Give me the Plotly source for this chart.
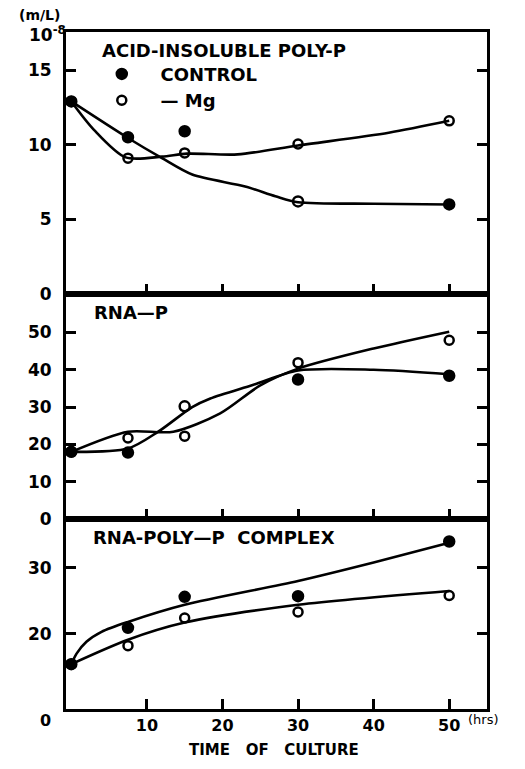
import plotly.graph_objects as go

# ---------------- data ----------------
time_hrs = [0, 7.5, 15, 30, 50]

# Panel 1: acid-insoluble poly-P (x10^-8 m/L)
poly_control = [12.9, 10.5, 10.9, 6.2, 6.0]
poly_mg = [12.9, 9.1, 9.45, 10.05, 11.6]
poly_control_curve_x = [0, 7.5, 12, 16, 23, 27, 30, 40, 50]
poly_control_curve_y = [12.9, 10.45, 9.1, 8.0, 7.2, 6.55, 6.15, 6.05, 6.0]
poly_mg_curve_x = [0, 3, 7.2, 12, 15.3, 22, 30, 42, 50]
poly_mg_curve_y = [12.9, 11.0, 9.15, 9.2, 9.4, 9.35, 9.95, 10.8, 11.6]

# Panel 2: RNA-P
rna_control = [18.0, 17.8, 30.2, 37.4, 38.4]
rna_mg = [18.0, 21.7, 22.2, 41.9, 47.9]
rna_control_curve_x = [0, 7.5, 11.5, 16, 18.4, 24, 30, 40, 50]
rna_control_curve_y = [18.0, 18.9, 23.4, 30.0, 32.3, 35.9, 39.8, 40.0, 38.8]
rna_mg_curve_x = [0, 7.5, 13.5, 19.7, 25, 30, 40, 50]
rna_mg_curve_y = [18.0, 23.4, 23.4, 28.3, 35.8, 40.3, 45.7, 50.2]

# Panel 3: RNA-poly-P complex
cx_control = [15.4, 20.9, 25.6, 25.7, 34.0]
cx_mg = [15.4, 18.2, 22.4, 23.3, 25.8]
cx_control_curve_x = [0, 0.7, 2, 4, 7.5, 15, 30, 40, 50]
cx_control_curve_y = [15.4, 17.0, 18.8, 20.3, 21.8, 24.4, 28.0, 30.8, 33.8]
cx_mg_curve_x = [0, 7.5, 15, 30, 50]
cx_mg_curve_y = [15.4, 19.1, 21.7, 24.4, 26.5]

x_tick_vals = [10, 20, 30, 40, 50]
x_tick_text = ["10", "20", "30", "40", "50"]
poly_ticks = [0, 5, 10, 15]
rna_ticks = [0, 10, 20, 30, 40, 50]
cx_ticks = [20, 30]

# marker symbols as they appear in the scan
poly_control_sym = ["circle", "circle", "circle", "circle-open", "circle"]
rna_control_sym = ["circle", "circle", "circle-open", "circle", "circle"]
cx_control_sym = ["circle"] * 5

# ---------------- figure ----------------
fig = go.Figure()
LW = 2.6
panels = [
    ("x", "y", poly_control, poly_mg, poly_control_sym,
     poly_control_curve_x, poly_control_curve_y, poly_mg_curve_x, poly_mg_curve_y, True),
    ("x2", "y2", rna_control, rna_mg, rna_control_sym,
     rna_control_curve_x, rna_control_curve_y, rna_mg_curve_x, rna_mg_curve_y, False),
    ("x3", "y3", cx_control, cx_mg, cx_control_sym,
     cx_control_curve_x, cx_control_curve_y, cx_mg_curve_x, cx_mg_curve_y, False),
]
for xa, ya, ctl, mg, csym, ccx, ccy, mcx, mcy, leg in panels:
    fig.add_trace(go.Scatter(x=ccx, y=ccy, xaxis=xa, yaxis=ya, mode="lines",
                             line=dict(color="black", width=LW, shape="spline", smoothing=0.8),
                             showlegend=False, hoverinfo="skip"))
    fig.add_trace(go.Scatter(x=mcx, y=mcy, xaxis=xa, yaxis=ya, mode="lines",
                             line=dict(color="black", width=LW, shape="spline", smoothing=0.8),
                             showlegend=False, hoverinfo="skip"))
    fig.add_trace(go.Scatter(x=time_hrs, y=ctl, xaxis=xa, yaxis=ya, mode="markers",
                             name="\u00a0\u00a0\u00a0CONTROL", showlegend=leg,
                             marker=dict(symbol=csym, size=10, color="black",
                                         line=dict(color="black", width=2.5))))
    fig.add_trace(go.Scatter(x=time_hrs, y=mg, xaxis=xa, yaxis=ya, mode="markers",
                             name="\u00a0\u00a0\u00a0\u2014 Mg", showlegend=leg,
                             marker=dict(symbol="circle-open", size=9, color="black",
                                         line=dict(color="black", width=2.5))))

xrange = [-0.7, 55.0]
common_x = dict(range=xrange, showline=True, linewidth=3, linecolor="black", mirror=True,
                ticks="inside", ticklen=10, tickwidth=2.5, tickcolor="black",
                tickvals=x_tick_vals, ticktext=x_tick_text, showgrid=False, zeroline=False)
common_y = dict(showline=True, linewidth=3, linecolor="black", mirror="ticks",
                ticks="inside", ticklen=10, tickwidth=2.5, tickcolor="black",
                showgrid=False, zeroline=False, ticklabelstandoff=8,
                tickfont=dict(size=17))

d3 = 0.2806
d2 = 0.613
fig.update_layout(
    width=525, height=769,
    margin=dict(l=66, r=38, t=32, b=60),
    paper_bgcolor="white", plot_bgcolor="white",
    font=dict(family="DejaVu Sans", weight="bold", size=16, color="black"),
    xaxis=dict(common_x, anchor="y", showticklabels=False),
    xaxis2=dict(common_x, anchor="y2", showticklabels=False, matches="x"),
    xaxis3=dict(common_x, anchor="y3", showticklabels=True, matches="x",
                tickfont=dict(size=16), ticklabelstandoff=0),
    yaxis=dict(common_y, domain=[d2, 1.0], range=[0, 17.55], tickvals=poly_ticks, anchor="x"),
    yaxis2=dict(common_y, domain=[d3, d2], range=[0, 60.3], tickvals=rna_ticks, anchor="x2"),
    yaxis3=dict(common_y, domain=[0, d3], range=[8.6, 37.4], tickvals=cx_ticks, anchor="x3"),
    showlegend=True,
    legend=dict(x=0.085, y=0.965, xanchor="left", yanchor="top",
                bgcolor="rgba(0,0,0,0)", font=dict(size=18, weight="bold"),
                tracegroupgap=0),
)

H = 769 - 32 - 60
def py(px):
    return 1 - (px - 32) / H
def pxx(px):
    return (px - 66) / (525 - 66 - 38)

fig.add_annotation(text="ACID-INSOLUBLE POLY-P", xref="paper", yref="paper",
                   x=pxx(100), y=py(51), xanchor="left", yanchor="middle",
                   showarrow=False, font=dict(size=18))
fig.add_annotation(text="RNA\u2014P", xref="paper", yref="paper",
                   x=pxx(92), y=py(312), xanchor="left", yanchor="middle",
                   showarrow=False, font=dict(size=18))
fig.add_annotation(text="RNA-POLY\u2014P\u00a0\u00a0COMPLEX", xref="paper", yref="paper",
                   x=pxx(91), y=py(537), xanchor="left", yanchor="middle",
                   showarrow=False, font=dict(size=18))
# y units
fig.add_annotation(text="(m/L)", xref="paper", yref="paper",
                   x=pxx(62), y=py(15), xanchor="right", yanchor="middle",
                   showarrow=False, font=dict(size=14))
fig.add_annotation(text="10<sup>-8</sup>", xref="paper", yref="paper",
                   x=pxx(68), y=py(34), xanchor="right", yanchor="middle",
                   showarrow=False, font=dict(size=17))
# x axis extras
fig.add_annotation(text="0", xref="paper", yref="paper",
                   x=pxx(45), y=py(720), xanchor="center", yanchor="middle",
                   showarrow=False, font=dict(size=16))
fig.add_annotation(text="(hrs)", xref="paper", yref="paper",
                   x=pxx(466), y=py(719), xanchor="left", yanchor="middle",
                   showarrow=False, font=dict(size=13, weight="normal"))
fig.add_annotation(text="TIME\u00a0\u00a0\u00a0OF\u00a0\u00a0\u00a0CULTURE", xref="paper", yref="paper",
                   x=pxx(274), y=py(750), xanchor="center", yanchor="middle",
                   showarrow=False, font=dict(size=15))

fig.write_html("out.html", config={"displayModeBar": False},
               post_script="document.body.style.margin='0px';document.body.style.padding='0px';")
